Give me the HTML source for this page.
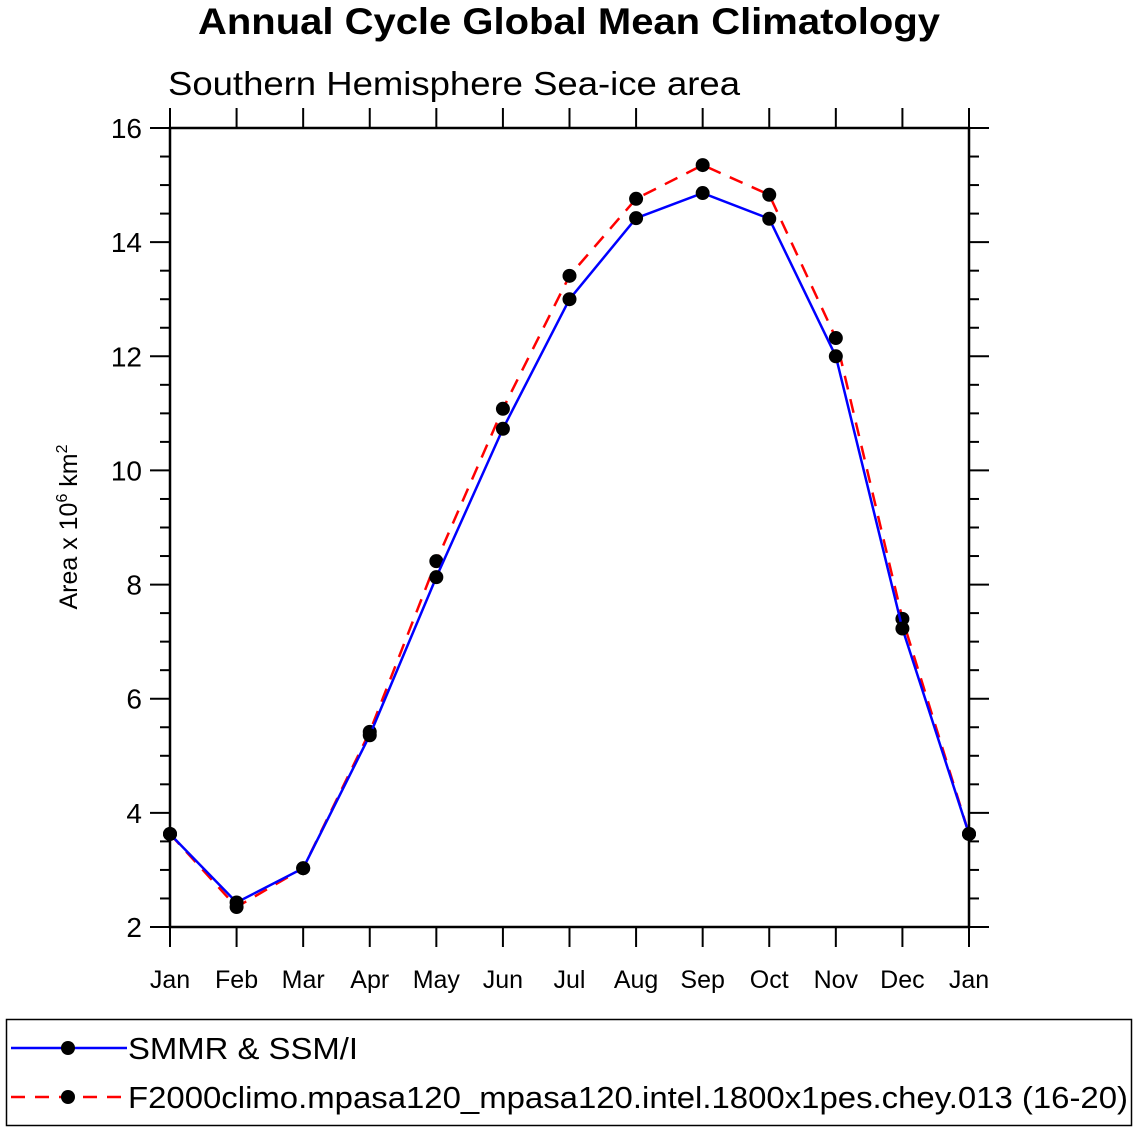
<!DOCTYPE html>
<html><head><meta charset="utf-8"><style>
body{margin:0;background:#fff;}
svg{display:block;font-family:"Liberation Sans",Helvetica,Arial,sans-serif;}
</style></head><body>
<svg id="chart" width="1138" height="1132">
<text x="198" y="34" textLength="742" lengthAdjust="spacingAndGlyphs" font-size="37" font-weight="bold">Annual Cycle Global Mean Climatology</text>
<text x="168" y="95" textLength="572" lengthAdjust="spacingAndGlyphs" font-size="33">Southern Hemisphere Sea-ice area</text>
<text transform="translate(77,527) rotate(-90)" text-anchor="middle" font-size="25">Area x 10<tspan dy="-10" font-size="16">6</tspan><tspan dy="10"> km</tspan><tspan dy="-10" font-size="16">2</tspan></text>
<g id="ticks"></g>
<g id="series"></g>
<rect x="170" y="128" width="799" height="799" fill="none" stroke="#000" stroke-width="2.5"/>
<g>
<rect x="6.5" y="1019.5" width="1125" height="106" fill="none" stroke="#000" stroke-width="1.5"/>
<g>
<line x1="11" y1="1048" x2="127" y2="1048" stroke="#0000ff" stroke-width="2.5"/>
<circle cx="68" cy="1048" r="7"/>
<text x="128" y="1059" textLength="230" lengthAdjust="spacingAndGlyphs" font-size="31">SMMR &amp; SSM/I</text></g>
<g>
<line x1="11" y1="1097" x2="127" y2="1097" stroke="#ff0000" stroke-width="2.5" stroke-dasharray="14,10"/>
<circle cx="68" cy="1097" r="7"/>
<text x="128" y="1108" textLength="1000" lengthAdjust="spacingAndGlyphs" font-size="31">F2000climo.mpasa120_mpasa120.intel.1800x1pes.chey.013 (16-20)</text></g>
</g>
</svg>
<script>
const months = ["Jan","Feb","Mar","Apr","May","Jun","Jul","Aug","Sep","Oct","Nov","Dec","Jan"];
const obsValues = [3.63,2.43,3.03,5.36,8.13,10.73,13.0,14.42,14.86,14.41,12.0,7.23,3.63];
const modelValues = [3.63,2.35,3.03,5.42,8.41,11.08,13.41,14.76,15.35,14.83,12.32,7.40,3.63];
const yTicks = [2,4,6,8,10,12,14,16];
const NS="http://www.w3.org/2000/svg";
const X0=170,X1=969,Y0=927,Y1=128,YMIN=2,YMAX=16;
const xs=i=>X0+(X1-X0)*i/(months.length-1);
const ys=v=>Y0-(v-YMIN)*(Y0-Y1)/(YMAX-YMIN);
function mk(tag,attrs,parent){const e=document.createElementNS(NS,tag);for(const k in attrs)e.setAttribute(k,attrs[k]);parent.appendChild(e);return e;}
const tg=document.getElementById('ticks');
for(let v=YMIN;v<=YMAX+1e-9;v+=0.5){
 const major=Math.abs(v-Math.round(v/2)*2)<1e-9;const L=major?20:10;const y=ys(v);
 const a=mk('line',{x1:X0-L,x2:X0,y1:y,y2:y,stroke:'#000','stroke-width':2},tg);
 
 
 const b=mk('line',{x1:X1,x2:X1+L,y1:y,y2:y,stroke:'#000','stroke-width':2},tg);
 
 
}
yTicks.forEach(v=>{
 const t=mk('text',{x:X0-28,y:ys(v)+10,'text-anchor':'end','font-size':28},tg);t.textContent=v;
 
 
});
months.forEach((m,i)=>{
 const x=xs(i);
 const a=mk('line',{x1:x,x2:x,y1:Y0,y2:Y0+20,stroke:'#000','stroke-width':2},tg);
 
 
 const b=mk('line',{x1:x,x2:x,y1:Y1-20,y2:Y1,stroke:'#000','stroke-width':2},tg);
 
 
 const t=mk('text',{x:x,y:988,'text-anchor':'middle','font-size':25},tg);t.textContent=m;
 
 
});
const sg=document.getElementById('series');
function draw(vals,color,dash,name){
 const p=mk('polyline',{points:vals.map((v,i)=>xs(i)+','+ys(v)).join(' '),fill:'none',stroke:color,'stroke-width':2.5,'stroke-dasharray':dash},sg);
 
 
 vals.forEach((v,i)=>{const c=mk('circle',{cx:xs(i),cy:ys(v),r:7,fill:'#000'},sg);
  
  });
}
draw(modelValues,'#ff0000','14,10','model');
draw(obsValues,'#0000ff','none','obs');
</script>
</body></html>
